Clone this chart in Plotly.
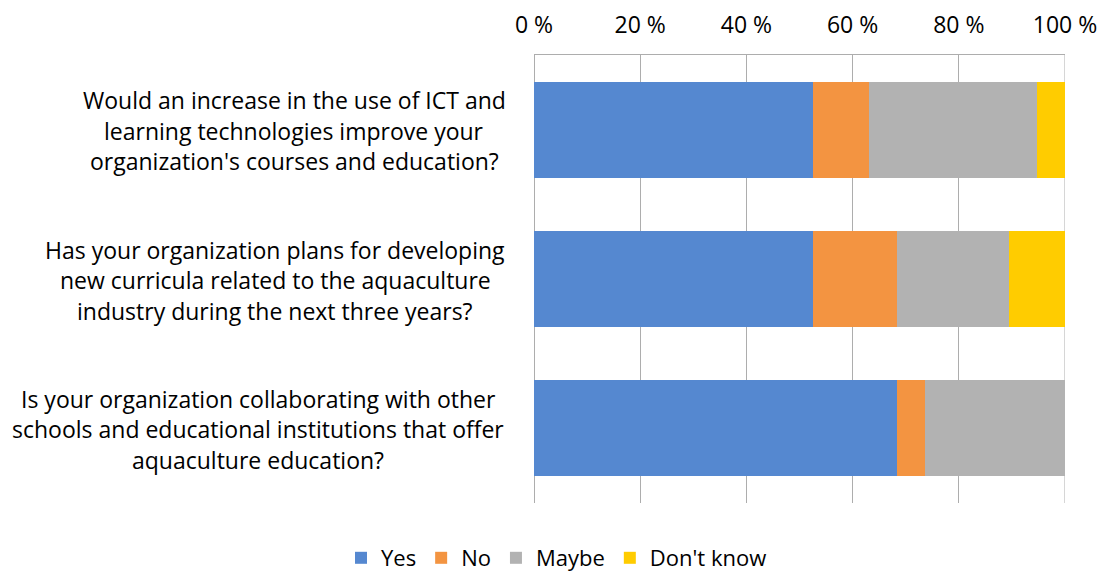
import plotly.graph_objects as go

questions = [
    ["Would an increase in the use of ICT and",
     "learning technologies improve your",
     "organization's courses and education?"],
    ["Has your organization plans for developing",
     "new curricula related to the aquaculture",
     "industry during the next three years?"],
    ["Is your organization collaborating with other",
     "schools and educational institutions that offer",
     "aquaculture education?"],
]
categories = ["Q1", "Q2", "Q3"]

yes = [52.6, 52.6, 68.4]
no = [10.5, 15.8, 5.3]
maybe = [31.6, 21.1, 26.3]
dont_know = [5.3, 10.5, 0.0]

tick_vals = [0, 20, 40, 60, 80, 100]
tick_text = ["0 %", "20 %", "40 %", "60 %", "80 %", "100 %"]

series = [
    ("Yes", yes, "#5588D0"),
    ("No", no, "#F39441"),
    ("Maybe", maybe, "#B2B2B2"),
    ("Don't know", dont_know, "#FFCC00"),
]

FONT = "Open Sans"
FS = 23
GRID = "#ADADAD"
fig = go.Figure()
for name, vals, color in series:
    fig.add_trace(go.Bar(
        y=categories, x=vals, name=name, orientation="h",
        marker=dict(color=color, line=dict(width=0)),
        width=0.643,
    ))

# category labels: one annotation per line, lines centred within each block
centers_px = [294, 275, 258]
plot_left, plot_w = 534, 531
for cat, lines, cpx in zip(categories, questions, centers_px):
    n = len(lines)
    for i, line in enumerate(lines):
        fig.add_annotation(
            text=line, xref="paper", yref="y",
            x=(cpx - plot_left) / plot_w, y=cat,
            xanchor="center", yanchor="middle",
            yshift=(((n - 1) / 2) - i) * 30.5 - 1,
            showarrow=False,
            font=dict(family=FONT, size=FS, color="#000000"),
        )

# right-hand gridline at 100 % (Plotly omits the grid line on the plot edge)
fig.add_shape(type="line", xref="x", yref="paper", x0=100, x1=100, y0=0, y1=1,
              line=dict(color=GRID, width=1), layer="below")

fig.update_layout(
    barmode="stack",
    width=1102, height=579,
    margin=dict(l=534, r=37, t=55, b=76, autoexpand=False),
    paper_bgcolor="white", plot_bgcolor="white",
    font=dict(family=FONT, size=FS, color="#000000"),
    showlegend=True,
    legend=dict(
        orientation="h", xref="container", yref="container",
        x=0.505, y=0.0, xanchor="center", yanchor="bottom",
        font=dict(family=FONT, size=22), traceorder="normal",
        itemwidth=30, bgcolor="rgba(0,0,0,0)",
    ),
    bargap=0.357,
)
fig.update_xaxes(
    side="top", range=[0, 100], tickvals=tick_vals, ticktext=tick_text,
    showgrid=True, gridcolor=GRID, gridwidth=1,
    zeroline=True, zerolinecolor=GRID, zerolinewidth=1,
    showline=True, linecolor=GRID, linewidth=1,
    ticks="", ticklabelstandoff=12, automargin=False,
    tickfont=dict(family=FONT, size=FS),
    fixedrange=True,
)
fig.update_yaxes(
    categoryorder="array", categoryarray=categories,
    range=[2.5, -0.5], showticklabels=False, showgrid=False,
    zeroline=False, showline=False, ticks="", automargin=False,
    fixedrange=True,
)

fig.write_html("out.html")
